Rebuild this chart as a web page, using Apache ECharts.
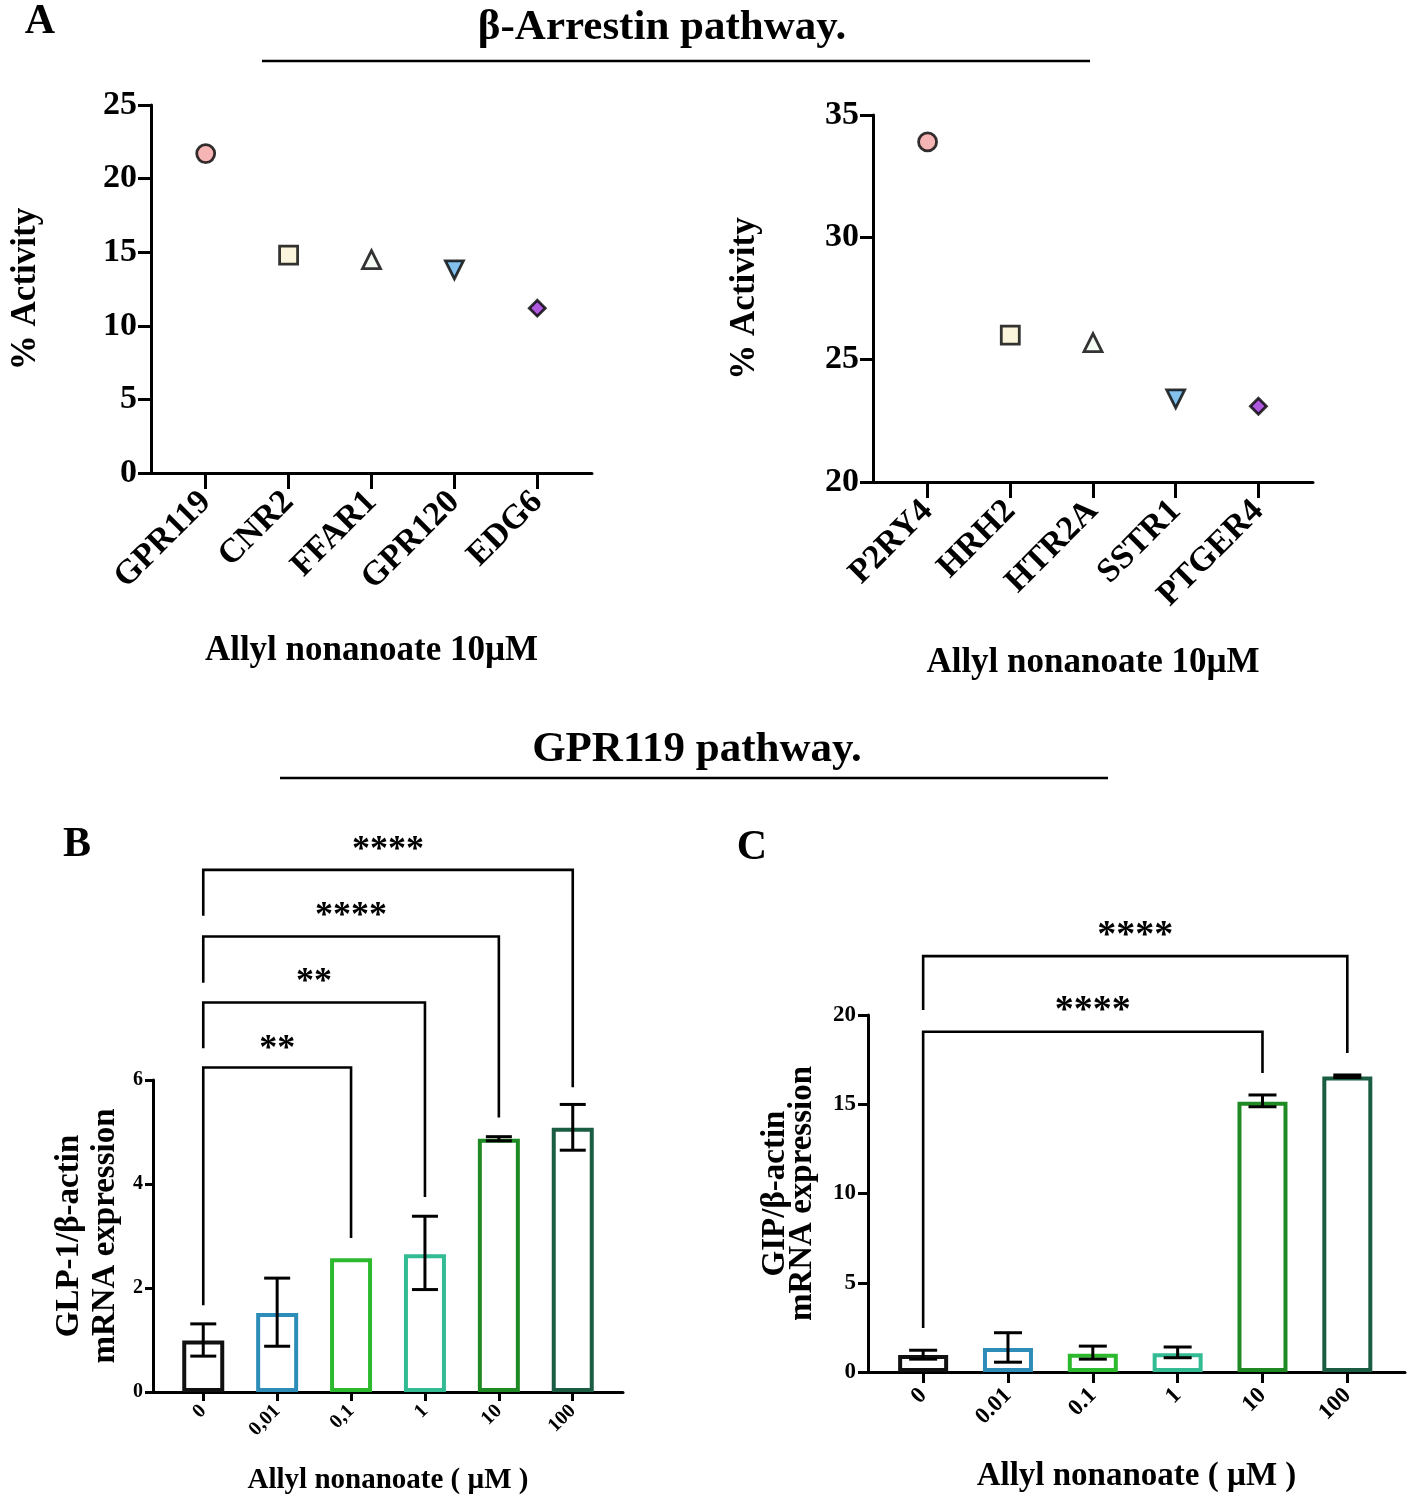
<!DOCTYPE html>
<html>
<head>
<meta charset="utf-8">
<script src="https://cdn.jsdelivr.net/npm/echarts@6/dist/echarts.min.js"></script>
<style>
html,body{margin:0;padding:0;background:#fff;}
#chart{width:1417px;height:1509px;}
</style>
</head>
<body>
<div id="chart"></div>
<script>
// ---------- DATA ----------
const arrestinCatsLeft = ['GPR119', 'CNR2', 'FFAR1', 'GPR120', 'EDG6'];
const arrestinValsLeft = [21.7, 14.8, 14.5, 13.8, 11.2];
const arrestinCatsRight = ['P2RY4', 'HRH2', 'HTR2A', 'SSTR1', 'PTGER4'];
const arrestinValsRight = [33.9, 26.0, 25.7, 23.4, 23.1];
const markerSymbols = ['circle', 'rect', 'triangle', 'triangle', 'diamond'];
const markerRotations = [0, 0, 0, 180, 0];
const markerColors = ['#F4A3A3', '#FBF3D5', '#F3FBF1', '#64B0E6', '#9B2FD6'];

const doseLabelsB = ['0', '0,01', '0,1', '1', '10', '100'];
const doseLabelsC = ['0', '0.01', '0.1', '1', '10', '100'];
const glp1Mean = [0.99, 1.52, 2.57, 2.65, 4.87, 5.08];
const glp1Low  = [0.69, 0.88, 2.57, 1.97, 4.83, 4.65];
const glp1High = [1.31, 2.19, 2.57, 3.38, 4.91, 5.53];
const gipMean = [0.95, 1.34, 1.02, 1.05, 15.14, 16.55];
const gipLow  = [0.72, 0.55, 0.72, 0.80, 14.86, 16.50];
const gipHigh = [1.22, 2.20, 1.45, 1.40, 15.52, 16.64];
const barColors = ['#111111', '#2E8DB8', '#2DB92D', '#33BB94', '#1F8A24', '#1B5D43'];

// brackets: [fromIndex, toIndex, lineY, leftLegBottom, rightLegBottom, starY]
const bracketsB = [
  [0, 2, 6.24, 1.67, 2.96, 6.66],
  [0, 3, 7.49, 6.61, 3.75, 7.95],
  [0, 4, 8.76, 7.87, 5.28, 9.22],
  [0, 5, 10.04, 9.16, 5.86, 10.49]
];
const bracketLabelsB = ['**', '**', '****', '****'];
const bracketsC = [
  [0, 4, 19.06, 2.46, 16.75, 20.45],
  [0, 5, 23.3, 20.28, 17.87, 24.65]
];
const bracketLabelsC = ['****', '****'];

// ---------- CHART ----------
const SERIF = '"Liberation Serif", "DejaVu Serif", serif';
const chart = echarts.init(document.getElementById('chart'));

function catXAxis(gi, cats, min, max, o) {
  const idx = cats.map((c, i) => i);
  return {
    gridIndex: gi, type: 'value', min: min, max: max,
    splitLine: { show: false },
    axisLine: { onZero: false, lineStyle: { color: '#000', width: o.lw } },
    axisTick: { customValues: idx, length: o.tickLen, lineStyle: { color: '#000', width: o.lw } },
    axisLabel: {
      customValues: idx, rotate: 45, margin: o.margin,
      formatter: v => cats[Math.round(v)],
      color: '#000', fontFamily: SERIF, fontWeight: 'bold', fontSize: o.fs
    },
    name: o.name, nameLocation: 'middle', nameGap: o.nameGap,
    nameTextStyle: { color: '#000', fontFamily: SERIF, fontWeight: 'bold', fontSize: o.nameFs }
  };
}
function valYAxis(gi, min, max, interval, o) {
  return {
    gridIndex: gi, type: 'value', min: min, max: max, interval: interval,
    splitLine: { show: false },
    axisLine: { show: true, onZero: false, lineStyle: { color: '#000', width: o.lw } },
    axisTick: { show: true, length: o.tickLen, lineStyle: { color: '#000', width: o.lw } },
    axisLabel: { margin: o.margin, color: '#000', fontFamily: SERIF, fontWeight: 'bold', fontSize: o.fs },
    name: o.name, nameLocation: 'middle', nameGap: o.nameGap, nameRotate: 90,
    nameTextStyle: { color: '#000', fontFamily: SERIF, fontWeight: 'bold', fontSize: o.nameFs, lineHeight: o.nameLh }
  };
}

function scatterData(vals) {
  return vals.map((v, i) => ({
    value: [i, v],
    symbol: markerSymbols[i],
    symbolRotate: markerRotations[i],
    symbolSize: markerSymbols[i] === 'diamond' ? 16 : 18,
    itemStyle: { color: markerColors[i], borderColor: '#000', borderWidth: 2.8 }
  }));
}

function barData(means) {
  return means.map((v, i) => ({ value: [i, v], itemStyle: { borderColor: barColors[i] } }));
}

function errorSeries(xi, yi, low, high, capHalf) {
  return {
    type: 'custom', xAxisIndex: xi, yAxisIndex: yi, z: 5,
    data: low.map((l, i) => [i, l, high[i]]),
    renderItem: function (params, api) {
      const x = api.value(0), lo = api.value(1), hi = api.value(2);
      if (hi - lo < 1e-6) return { type: 'group', children: [] };
      const a = api.coord([x, lo]), b = api.coord([x, hi]);
      const st = { stroke: '#000', lineWidth: 3 };
      return {
        type: 'group', children: [
          { type: 'line', shape: { x1: a[0], y1: a[1], x2: b[0], y2: b[1] }, style: st },
          { type: 'line', shape: { x1: a[0] - capHalf, y1: a[1], x2: a[0] + capHalf, y2: a[1] }, style: st },
          { type: 'line', shape: { x1: b[0] - capHalf, y1: b[1], x2: b[0] + capHalf, y2: b[1] }, style: st }
        ]
      };
    }
  };
}

function bracketSeries(xi, yi, brackets, labels, starFs) {
  return {
    type: 'custom', xAxisIndex: xi, yAxisIndex: yi, z: 6, clip: false,
    data: brackets.map(b => b.slice()),
    renderItem: function (params, api) {
      const x1 = api.value(0), x2 = api.value(1), yl = api.value(2), yL = api.value(3), yR = api.value(4), ys = api.value(5);
      const p1 = api.coord([x1, yL]), p2 = api.coord([x1, yl]), p3 = api.coord([x2, yl]), p4 = api.coord([x2, yR]);
      const ps = api.coord([(x1 + x2) / 2, ys]);
      return {
        type: 'group', children: [
          { type: 'polyline', shape: { points: [p1, p2, p3, p4] }, style: { stroke: '#000', lineWidth: 2.6, fill: null } },
          { type: 'text', x: ps[0], y: ps[1] + starFs * 0.12,
            style: { text: labels[params.dataIndex], fill: '#000', font: 'bold ' + starFs + 'px ' + SERIF,
                     align: 'center', verticalAlign: 'middle', textAlign: 'center', textVerticalAlign: 'middle' } }
        ]
      };
    }
  };
}

function txt(text, x, y, fs, align) {
  return { type: 'text', x: x, y: y,
    style: { text: text, fill: '#000', font: 'bold ' + fs + 'px ' + SERIF,
             align: align || 'center', verticalAlign: 'middle', textAlign: align || 'center', textVerticalAlign: 'middle' } };
}
function hline(x1, x2, y) {
  return { type: 'line', shape: { x1: x1, y1: y, x2: x2, y2: y }, style: { stroke: '#000', lineWidth: 2.5 } };
}

const option = {
  backgroundColor: '#fff',
  animation: false,
  graphic: [
    txt('A', 40, 22, 42),
    txt('β-Arrestin pathway.', 662, 28, 43),
    hline(262, 1090, 61),
    txt('GPR119 pathway.', 697, 750, 43),
    hline(280, 1108, 778),
    txt('B', 77, 845, 42),
    txt('C', 752, 848, 42)
  ],
  grid: [
    { left: 151, top: 105, width: 441, height: 368 },
    { left: 873, top: 115, width: 440, height: 367 },
    { left: 153, top: 1080, width: 470, height: 312 },
    { left: 868, top: 1015, width: 537, height: 357 }
  ],
  xAxis: [
    catXAxis(0, arrestinCatsLeft, -0.66, 4.66, { lw: 3, tickLen: 16, margin: 24, fs: 34, name: 'Allyl nonanoate 10µM', nameGap: 160, nameFs: 35 }),
    catXAxis(1, arrestinCatsRight, -0.66, 4.66, { lw: 3, tickLen: 16, margin: 24, fs: 34, name: 'Allyl nonanoate 10µM', nameGap: 163, nameFs: 35 }),
    catXAxis(2, doseLabelsB, -0.68, 5.68, { lw: 3, tickLen: 9, margin: 16, fs: 20, name: 'Allyl nonanoate ( µM )', nameGap: 74, nameFs: 29 }),
    catXAxis(3, doseLabelsC, -0.65, 5.68, { lw: 3, tickLen: 11, margin: 20, fs: 23, name: 'Allyl nonanoate ( µM )', nameGap: 88, nameFs: 33 })
  ],
  yAxis: [
    valYAxis(0, 0, 25, 5, { lw: 3, tickLen: 13, margin: 14, fs: 34, name: '% Activity', nameGap: 108, nameFs: 35 }),
    valYAxis(1, 20, 35, 5, { lw: 3, tickLen: 13, margin: 14, fs: 34, name: '% Activity', nameGap: 111, nameFs: 35 }),
    valYAxis(2, 0, 6, 2, { lw: 3, tickLen: 8, margin: 10, fs: 20, name: 'GLP-1/β-actin\nmRNA expression', nameGap: 30, nameFs: 33, nameLh: 36 }),
    valYAxis(3, 0, 20, 5, { lw: 3, tickLen: 10, margin: 12, fs: 23, name: 'GIP/β-actin\nmRNA expression', nameGap: 52, nameFs: 33, nameLh: 27 })
  ],
  series: [
    { type: 'scatter', xAxisIndex: 0, yAxisIndex: 0, data: scatterData(arrestinValsLeft), z: 5 },
    { type: 'scatter', xAxisIndex: 1, yAxisIndex: 1, data: scatterData(arrestinValsRight), z: 5 },
    { type: 'bar', xAxisIndex: 2, yAxisIndex: 2, barWidth: 42, data: barData(glp1Mean),
      itemStyle: { color: '#fff', borderWidth: 4 } },
    errorSeries(2, 2, glp1Low, glp1High, 13),
    bracketSeries(2, 2, bracketsB, bracketLabelsB, 36),
    { type: 'bar', xAxisIndex: 3, yAxisIndex: 3, barWidth: 50, data: barData(gipMean),
      itemStyle: { color: '#fff', borderWidth: 4 } },
    errorSeries(3, 3, gipLow, gipHigh, 14),
    bracketSeries(3, 3, bracketsC, bracketLabelsC, 38)
  ]
};
chart.setOption(option);
</script>
</body>
</html>
